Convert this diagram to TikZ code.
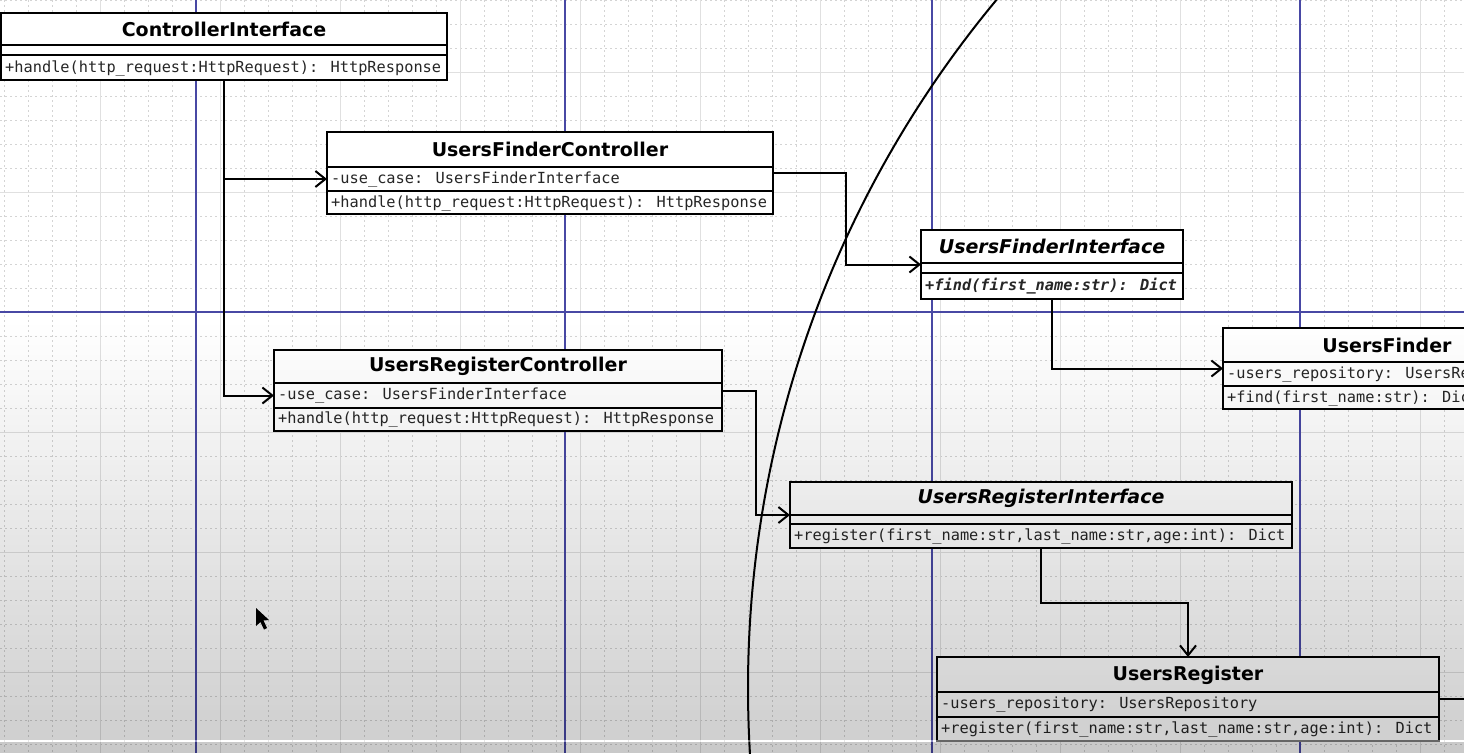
\documentclass[tikz,border=0pt]{standalone}
\usepackage{fontspec}
\setmainfont{DejaVu Sans}
\newfontfamily\umlmono{DejaVu Sans Mono}
\usetikzlibrary{arrows.meta,calc}
\definecolor{pageblue}{HTML}{4848A4}
\definecolor{gridsolid}{HTML}{E0E0E0}
\definecolor{griddot}{HTML}{D4D4D4}
\tikzset{
  classbox/.style={draw=black, line width=2pt, fill=white, inner sep=0pt, outer sep=0pt, rectangle},
  ttl/.style={font=\fontsize{19}{22}\selectfont\bfseries, inner sep=0pt, anchor=center},
  ttlit/.style={font=\fontsize{19}{22}\selectfont\bfseries\itshape, inner sep=0pt, anchor=center},
  mono/.style={font=\fontsize{15.3}{18}\selectfont\umlmono, inner sep=0pt, anchor=west, text=black!85},
  monoit/.style={font=\fontsize{15.3}{18}\selectfont\umlmono\bfseries\itshape, inner sep=0pt, anchor=west, text=black!85},
  sepline/.style={line width=2pt},
  conn/.style={line width=2pt, -{Straight Barb[length=10pt,width=16pt,line width=2pt]}},
  plainconn/.style={line width=2pt},
  dotgrid/.style={griddot, line width=0.6pt, dash pattern=on 2pt off 3pt},
  solidgrid/.style={gridsolid, line width=0.9pt},
  pagegrid/.style={pageblue, line width=1.2pt},
}
\begin{document}
\begin{tikzpicture}[x=1pt,y=-1pt]
\useasboundingbox (0,0) rectangle (1464,753);
\clip (0,0) rectangle (1464,753);
\fill[white] (0,0) rectangle (1464,753);
% grid
\foreach \x in {4,28,...,1464} \draw[dotgrid] (\x,0) -- (\x,753);
\foreach \y in {0,24,...,753} \draw[dotgrid] (0,\y) -- (1464,\y);
\foreach \x in {100,220,...,1464} \draw[solidgrid] (\x,0) -- (\x,753);
\foreach \y in {72,192,...,753} \draw[solidgrid] (0,\y) -- (1464,\y);
\foreach \x in {196,565,932,1300} \draw[pagegrid] (\x,0) -- (\x,753);
\draw[pagegrid] (0,312) -- (1464,312);

% big arc
\draw[line width=2pt] (1825,688) circle[radius=1077pt];

% ControllerInterface
\node[classbox, minimum width=446pt, minimum height=67pt] (ci) at (224,46) {};
\draw[sepline] (1,45) -- (447,45);
\draw[sepline] (1,55) -- (447,55);
\node[ttl] (citl) at (224,29) {ControllerInterface};
\node[mono] (ciop) at (5,68) {+handle(http\_request:HttpRequest): HttpResponse};

% UsersFinderController
\node[classbox, minimum width=446pt, minimum height=82pt] (ufc) at (550,173) {};
\draw[sepline] (327,167) -- (773,167);
\draw[sepline] (327,191) -- (773,191);
\node[ttl] (ufctl) at (550,149) {UsersFinderController};
\node[mono] (ufcat) at (331,179) {-use\_case: UsersFinderInterface};
\node[mono] (ufcop) at (331,203) {+handle(http\_request:HttpRequest): HttpResponse};

% UsersFinderInterface
\node[classbox, minimum width=262pt, minimum height=69pt] (ufi) at (1052,264.5) {};
\draw[sepline] (921,263) -- (1183,263);
\draw[sepline] (921,273) -- (1183,273);
\node[ttlit] (ufitl) at (1052,246.5) {UsersFinderInterface};
\node[monoit] (ufiop) at (925,286) {+find(first\_name:str): Dict};

% UsersFinder (cut off by the right edge)
\node[classbox, minimum width=328pt, minimum height=81pt] (uf) at (1387,368.5) {};
\draw[sepline] (1223,362) -- (1551,362);
\draw[sepline] (1223,386) -- (1551,386);
\node[ttl] (uftl) at (1387,345) {UsersFinder};
\node[mono] (ufat) at (1227,374) {-users\_repository: UsersRepository};
\node[mono] (ufop) at (1227,398) {+find(first\_name:str): Dict};

% UsersRegisterController
\node[classbox, minimum width=448pt, minimum height=81pt] (urc) at (498,390.5) {};
\draw[sepline] (274,383) -- (722,383);
\draw[sepline] (274,408) -- (722,408);
\node[ttl] (urctl) at (498,366.5) {UsersRegisterController};
\node[mono] (urcat) at (278,395.5) {-use\_case: UsersFinderInterface};
\node[mono] (urcop) at (278,419.5) {+handle(http\_request:HttpRequest): HttpResponse};

% UsersRegisterInterface
\node[classbox, minimum width=502pt, minimum height=66pt] (uri) at (1041,515) {};
\draw[sepline] (790,515) -- (1292,515);
\draw[sepline] (790,524) -- (1292,524);
\node[ttlit] (uritl) at (1041,498.5) {UsersRegisterInterface};
\node[mono] (uriop) at (794,536) {+register(first\_name:str,last\_name:str,age:int): Dict};

% UsersRegister
\node[classbox, minimum width=502pt, minimum height=84pt] (ur) at (1188,699) {};
\draw[sepline] (937,692) -- (1439,692);
\draw[sepline] (937,717) -- (1439,717);
\node[ttl] (urtl) at (1188,675) {UsersRegister};
\node[mono] (urat) at (941,704.5) {-users\_repository: UsersRepository};
\node[mono] (urop) at (941,729) {+register(first\_name:str,last\_name:str,age:int): Dict};

% connectors
\coordinate (repo) at (1490,699);
\draw[conn] (ci.south) |- ($(ufc.west)+(0,6)$);
\draw[conn] (ci.south) |- ($(urc.west)+(0,5)$);
\draw[conn] (ufc.east) -- ++(73,0) |- (ufi.west);
\draw[conn] (ufi.south) |- (uf.west);
\draw[conn] (urc.east) -- ++(34,0) |- (uri.west);
\draw[conn] (uri.south) -- ++(0,55) -| (ur.north);
\draw[plainconn] (ur.east) -- (repo);

% mouse cursor
\fill[black] (256,608) -- (256,626) -- (260.5,622) -- (264,629.5) -- (267,628) -- (263.5,620.5) -- (269,620) -- cycle;

% screen overlay gradient
\foreach \i in {0,...,83} {
  \pgfmathsetmacro\op{0.00225*\i}
  \fill[black, opacity=\op] (0,{320+5*\i}) rectangle (1464,{325+5*\i});
}
\fill[white, opacity=0.4] (0,740) rectangle (1464,742);
\fill[black, opacity=0.21] (0,742) rectangle (1464,753);
\end{tikzpicture}
\end{document}
